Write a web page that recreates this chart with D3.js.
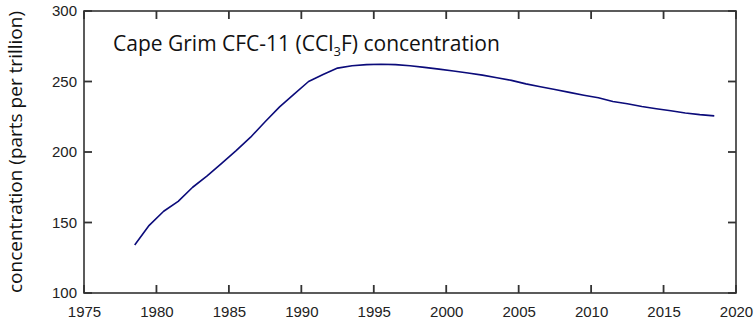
<!DOCTYPE html>
<meta charset="utf-8">
<title>Cape Grim CFC-11</title>
<style>
body { margin: 0; background: #fff; }
svg { display: block; font-family: "Open Sans", sans-serif; }
.tick text { font-size: 15px; fill: #222; }
</style>
<svg></svg>
<script src="https://cdn.jsdelivr.net/npm/d3@7"></script>
<script>
// annual means (mid-year)
var years = [1978.5, 1979.5, 1980.5, 1981.5, 1982.5, 1983.5, 1984.5, 1985.5, 1986.5, 1987.5,
  1988.5, 1989.5, 1990.5, 1991.5, 1992.5, 1993.5, 1994.5, 1995.5, 1996.5, 1997.5,
  1998.5, 1999.5, 2000.5, 2001.5, 2002.5, 2003.5, 2004.5, 2005.5, 2006.5, 2007.5,
  2008.5, 2009.5, 2010.5, 2011.5, 2012.5, 2013.5, 2014.5, 2015.5, 2016.5, 2017.5, 2018.5];
var cfc11 = [134, 148, 158, 165, 175, 183, 192, 201, 210.5, 221.5,
  232, 241, 250, 255, 259.5, 261.2, 262, 262.2, 262, 261.2,
  260, 258.8, 257.5, 256, 254.5, 252.7, 250.8, 248.3, 246.3, 244.3,
  242.3, 240.3, 238.5, 235.8, 234.2, 232.3, 230.7, 229.2, 227.7, 226.5, 225.6];
var xTicks = [1975, 1980, 1985, 1990, 1995, 2000, 2005, 2010, 2015, 2020];
var yTicks = [100, 150, 200, 250, 300];

var width = 754, height = 323;
var margin = {top: 11, right: 18, bottom: 30, left: 84};
var svg = d3.select("svg").attr("width", width).attr("height", height);

var x = d3.scaleLinear().domain([1975, 2020]).range([margin.left, width - margin.right]);
var y = d3.scaleLinear().domain([100, 300]).range([height - margin.bottom, margin.top]);

var axisColor = "#333", tickLen = 8;

// labels from d3 axes (their own tick lines and domain removed)
function strip(g) {
  g.select(".domain").remove();
  g.selectAll(".tick line").remove();
}
svg.append("g")
    .attr("transform", "translate(0," + y(100) + ")")
    .call(d3.axisBottom(x).tickValues(xTicks).tickFormat(d3.format("d")).tickSize(0).tickPadding(13))
    .call(strip);
svg.append("g")
    .attr("transform", "translate(" + x(1975) + ",0)")
    .call(d3.axisLeft(y).tickValues(yTicks).tickSize(0).tickPadding(7))
    .call(strip);

// frame
svg.append("rect")
    .attr("x", x(1975)).attr("y", y(300))
    .attr("width", x(2020) - x(1975)).attr("height", y(100) - y(300))
    .attr("fill", "none").attr("stroke", axisColor).attr("stroke-width", 1.6);

// inward tick marks on all four sides
var tw = 1.8;
var tk = svg.append("g").attr("fill", axisColor);
xTicks.forEach(function(d) {
  tk.append("rect").attr("x", x(d) - tw / 2).attr("y", y(100) - tickLen).attr("width", tw).attr("height", tickLen);
  tk.append("rect").attr("x", x(d) - tw / 2).attr("y", y(300)).attr("width", tw).attr("height", tickLen);
});
yTicks.forEach(function(d) {
  tk.append("rect").attr("x", x(1975)).attr("y", y(d) - tw / 2).attr("width", tickLen).attr("height", tw);
  tk.append("rect").attr("x", x(2020) - tickLen).attr("y", y(d) - tw / 2).attr("width", tickLen).attr("height", tw);
});

// series
var line = d3.line().x(function(d, i) { return x(years[i]); }).y(function(d) { return y(d); });
svg.append("path")
    .datum(cfc11)
    .attr("d", line)
    .attr("fill", "none")
    .attr("stroke", "#0b0b7a")
    .attr("stroke-width", 1.6)
    .attr("stroke-linejoin", "round");

// title
var title = svg.append("text")
    .attr("x", 113).attr("y", 51)
    .style("font-size", "21px").attr("fill", "#111");
title.append("tspan").text("Cape Grim CFC-11 (CCl");
title.append("tspan").text("3").attr("dy", 5).style("font-size", "13px");
title.append("tspan").text("F) concentration").attr("dy", -5);

// y label
svg.append("text")
    .attr("transform", "translate(22," + ((y(100) + y(300)) / 2) + ") rotate(-90)")
    .attr("text-anchor", "middle")
    .style("font-size", "19px").attr("fill", "#111")
    .text("concentration (parts per trillion)");
</script>
